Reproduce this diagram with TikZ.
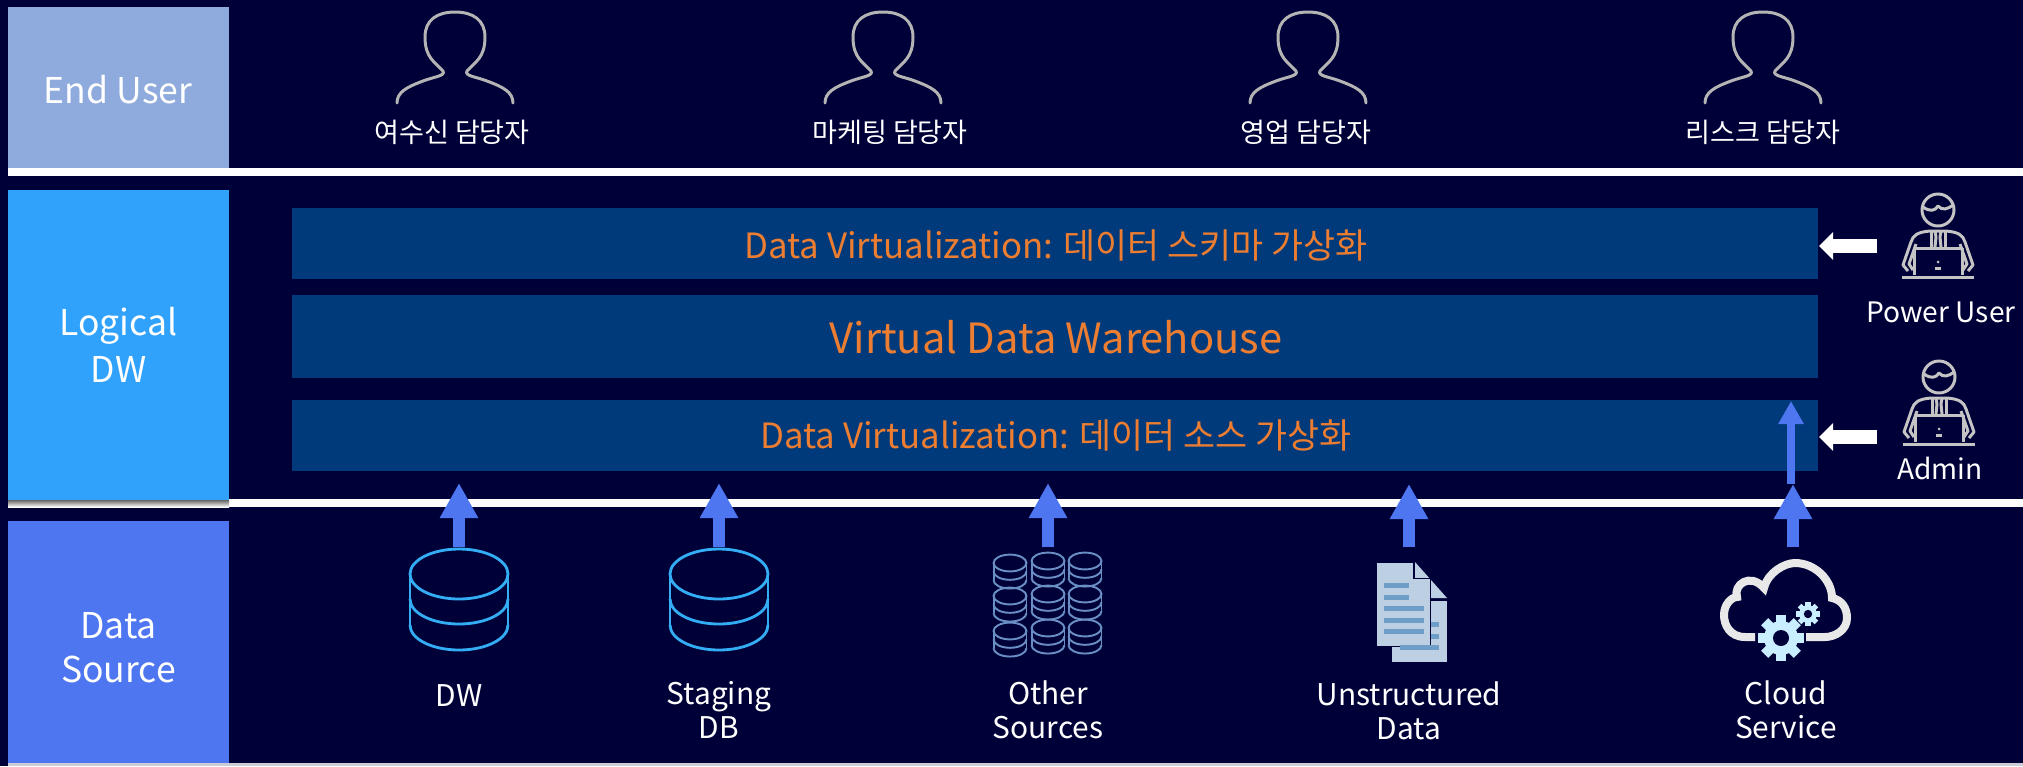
\documentclass[tikz,border=0pt]{standalone}
\usepackage{fontspec}
\setmainfont{Noto Sans CJK KR}
\usetikzlibrary{arrows.meta}

\definecolor{pagebg}{HTML}{000038}
\definecolor{enduserblue}{HTML}{8FAADC}
\definecolor{logicalblue}{HTML}{31A2FB}
\definecolor{sourceblue}{HTML}{4D76F0}
\definecolor{barblue}{HTML}{003A7A}
\definecolor{barorange}{HTML}{ED7D31}
\definecolor{dbcyan}{HTML}{33AEF5}
\definecolor{dbsteel}{HTML}{6A8FC4}
\definecolor{docpale}{HTML}{BDD0E3}
\definecolor{docline}{HTML}{6E9DC8}
\definecolor{cloudgrey}{HTML}{E8E8E8}
\definecolor{gearpale}{HTML}{C9EEFF}
\definecolor{usergrey}{HTML}{B4B4B4}
\definecolor{workergrey}{HTML}{C4C4C4}

\tikzset{
	sectionbox/.style={minimum width=2.21cm, inner sep=0, align=center, text=white, font=\fontsize{10.1}{13}\selectfont},
	bar/.style={fill=barblue, minimum width=15.26cm, inner sep=0, text=barorange},
	barlabel/.style={font=\fontsize{9.9}{13}\selectfont},
	userlabel/.style={text=white, inner sep=0, font=\fontsize{7.7}{10}\selectfont},
	sourcelabel/.style={text=white, inner sep=0, align=center, font=\fontsize{8.5}{9.7}\selectfont},
	iconbox/.style={inner sep=0, minimum width=.98cm, minimum height=1.02cm},
	bigarrow/.style={draw=sourceblue, line width=.12cm, -{Triangle[length=.35cm, width=.36cm]}},
	thinarrow/.style={draw=sourceblue, line width=.08cm, -{Triangle[length=.23cm, width=.24cm]}},
	whitearrow/.style={draw=white, line width=.14cm, -{Triangle[length=.14cm, width=.27cm]}},
	pics/enduser/.style={code={
		\draw[usergrey, line width=.85pt, line cap=round, line join=round] (-58,103) .. controls (-58,92) and (-48,87) .. (-32,81) .. controls (-22,77) and (-9,76) .. (-12,71) .. controls (-20,62) and (-30,58) .. (-30,37) .. controls (-30,20) and (-18,12) .. (0,12) .. controls (18,12) and (30,20) .. (30,37) .. controls (30,58) and (20,62) .. (12,71) .. controls (9,76) and (22,77) .. (32,81) .. controls (48,87) and (58,92) .. (58,103);
	}},
	pics/dbstack/.style={code={
		\draw (0,0) ellipse [x radius=49, y radius=25];
		\draw (-49,0) -- (-49,51) (49,0) -- (49,51);
		\foreach \lay in {25,51} {
			\draw (-49,\lay) .. controls (-49,\lay+14) and (-27,\lay+25) .. (0,\lay+25) .. controls (27,\lay+25) and (49,\lay+14) .. (49,\lay);
		}
	}},
	pics/worker/.style={code={
		\begin{scope}[workergrey, line width=.85pt, line join=round]
		\draw (0,-67) circle [radius=16];
		\draw (-15,-70) .. controls (-8,-65) and (-3,-66) .. (0,-71) .. controls (4,-66) and (10,-68) .. (15,-72);
		\draw (-30,-6) -- (-35,-12) -- (-27,-35) .. controls (-25,-42) and (-20,-45) .. (-8,-46) -- (8,-46) .. controls (20,-45) and (25,-42) .. (27,-35) -- (35,-12) -- (30,-6);
		\draw (-22,-33) -- (-29,-13) -- (-25,-7) (22,-33) -- (29,-13) -- (25,-7);
		\draw (-7,-46) -- (-7,-30) (7,-46) -- (7,-30);
		\draw (-3,-46) -- (-2,-40) -- (-3,-30) (3,-46) -- (2,-40) -- (3,-30);
		\draw (-24,-2) -- (-24,-29) -- (24,-29) -- (24,-2);
		\draw (-36,0) -- (36,0);
		\draw (-3,-9) -- (3,-9);
		\fill (0,-15) circle [radius=1.5];
		\end{scope}
	}},
	pics/gearwheel/.style={code={
		\fill[gearpale] (0,0) circle [radius=17];
		\foreach \ang in {0,45,...,315} {
			\fill[gearpale, rotate=\ang] (-5,-23) rectangle (5,-12);
		}
		\fill[pagebg] (0,0) circle [radius=8];
	}},
}

\begin{document}
\begin{tikzpicture}[x=.01cm, y=-.01cm]
	\useasboundingbox (0,0) rectangle (2023,766);
	\fill[pagebg] (0,0) rectangle (2023,766);

	\fill[white] (8,168) rectangle (2023,176);
	\fill[white] (8,499) rectangle (2023,507);
	\shade[top color=black!60, bottom color=white] (8,500) rectangle (229,507);
	\fill[white!80!pagebg] (8,763) rectangle (2023,766);

	\begin{scope}
	\node (enduser) at (118.5,87.5) [sectionbox, fill=enduserblue, minimum height=1.61cm] {};
	\node (enduserlabel) at (118,90) [sectionbox] {End User};
	\pic at (455,0) {enduser};
	\pic at (883,0) {enduser};
	\pic at (1308,0) {enduser};
	\pic at (1763,0) {enduser};
	\node (credit) at (452,132) [userlabel] {여수신 담당자};
	\node (marketing) at (890,132) [userlabel] {마케팅 담당자};
	\node (sales) at (1306,132) [userlabel] {영업 담당자};
	\node (risk) at (1763,132) [userlabel] {리스크 담당자};
	\end{scope}

	\begin{scope}
	\node (logical) at (118.5,345) [sectionbox, fill=logicalblue, minimum height=3.1cm] {Logical\\[.3pt]DW};
	\node (schemabar) at (1055,243.5) [bar, minimum height=.71cm] {};
	\node (warehousebar) at (1055,336.5) [bar, minimum height=.83cm] {};
	\node (sourcebar) at (1055,435.5) [bar, minimum height=.71cm] {};
	\node (schemalabel) at (1056,245) [barlabel, text=barorange] {Data Virtualization: 데이터 스키마 가상화};
	\node (warehouselabel) at (1056,337) [text=barorange, font=\fontsize{11.85}{14}\selectfont] {Virtual Data Warehouse};
	\node (sourcelabel) at (1056,435) [barlabel, text=barorange] {Data Virtualization: 데이터 소스 가상화};
	\pic at (1938,277) {worker};
	\pic at (1939,444) {worker};
	\node (poweruser) at (1941,312) [userlabel, font=\fontsize{8}{10}\selectfont] {Power User};
	\node (admin) at (1940,468) [userlabel, font=\fontsize{8}{10}\selectfont] {Admin};
	\coordinate (powertail) at (1877,246);
	\coordinate (admintail) at (1877,437);
	\end{scope}

	\begin{scope}
	\node (datasource) at (118.5,642) [sectionbox, fill=sourceblue, minimum height=2.42cm] {};
	\node (datasourcelabel) at (118.5,648) [sectionbox] {Data\\[-.5pt]Source};
	\node (dw) at (459,599) [iconbox] {};
	\node (staging) at (719,599) [iconbox] {};
	\node (others) at (1048,599) [iconbox] {};
	\node (files) at (1409,599) [iconbox] {};
	\node (cloud) at (1793,599) [iconbox] {};
	\node (dwlabel) at (459,696) [sourcelabel] {DW};
	\node (staginglabel) at (719,710) [sourcelabel] {Staging\\DB};
	\node (otherslabel) at (1048,710) [sourcelabel] {Other\\Sources};
	\node (fileslabel) at (1409,711) [sourcelabel] {Unstructured\\Data};
	\node (cloudlabel) at (1786,710) [sourcelabel] {Cloud\\Service};
	\coordinate (dwtop) at (459,483);
	\coordinate (stagingtop) at (719,483);
	\coordinate (otherstop) at (1048,483);
	\coordinate (filestop) at (1409,484);
	\coordinate (cloudtop) at (1793,484);
	\coordinate (cloudgap) at (1791,484);
	\coordinate (cloudentry) at (1791,401);
	\end{scope}

	\begin{scope}[draw=dbcyan, line width=.8pt]
	\pic at (459,574) {dbstack};
	\pic at (719,574) {dbstack};
	\end{scope}

	\begin{scope}[draw=dbsteel, line width=.55pt]
	\foreach \colx/\rowa/\rowb/\rowc in {1010/563/596/631, 1048/561/594/628, 1085/561/594/628} {
		\pic[scale=.336] at (\colx,\rowa) {dbstack};
		\pic[scale=.336] at (\colx,\rowb) {dbstack};
		\pic[scale=.336] at (\colx,\rowc) {dbstack};
	}
	\end{scope}

	\begin{scope}
	\fill[docpale] (1392,601) rectangle (1447,662);
	\fill[docpale] (1415,562) -- (1447,598) -- (1430,598) -- (1430,580) -- (1415,578) -- cycle;
	\fill[docpale, draw=pagebg, line width=.2pt] (1376.5,562) -- (1413,562) -- (1413,578) -- (1430,578) -- (1430,646) -- (1376.5,646) -- cycle;
	\foreach \ya/\xb in {585/1409, 597/1409, 608/1424, 620/1424, 631/1424} {
		\fill[docline] (1384,\ya-2.5) rectangle (\xb,\ya+2.5);
	}
	\fill[docline] (1431,621.5) rectangle (1439,626.5);
	\fill[docline] (1431,633.5) rectangle (1439,638.5);
	\fill[docline] (1399.5,644.5) rectangle (1439,649.5);
	\end{scope}

	\begin{scope}
	\draw[cloudgrey, line width=.08cm] (1755,637) -- (1745,637) .. controls (1730,637) and (1724,625) .. (1724,615) .. controls (1724,604) and (1732,597) .. (1737,597) .. controls (1733,585) and (1750,572) .. (1764,588) .. controls (1768,572) and (1785,563) .. (1795,563) .. controls (1815,563) and (1832,580) .. (1832,598) .. controls (1842,600) and (1847,608) .. (1847,618) .. controls (1847,630) and (1835,637) .. (1825,637) -- (1806,637);
	\pic at (1781,638) {gearwheel};
	\pic[scale=.52] at (1808,614) {gearwheel};
	\end{scope}

	\draw[bigarrow] (dw.north) -- (dwtop);
	\draw[bigarrow] (staging.north) -- (stagingtop);
	\draw[bigarrow] (others.north) -- (otherstop);
	\draw[bigarrow] (files.north) -- (filestop);
	\draw[bigarrow] (cloud.north) -- (cloudtop);
	\draw[thinarrow] (cloudgap) -- (cloudentry);
	\draw[whitearrow] (powertail) -- (schemabar.east |- powertail);
	\draw[whitearrow] (admintail) -- (sourcebar.east |- admintail);
\end{tikzpicture}
\end{document}
